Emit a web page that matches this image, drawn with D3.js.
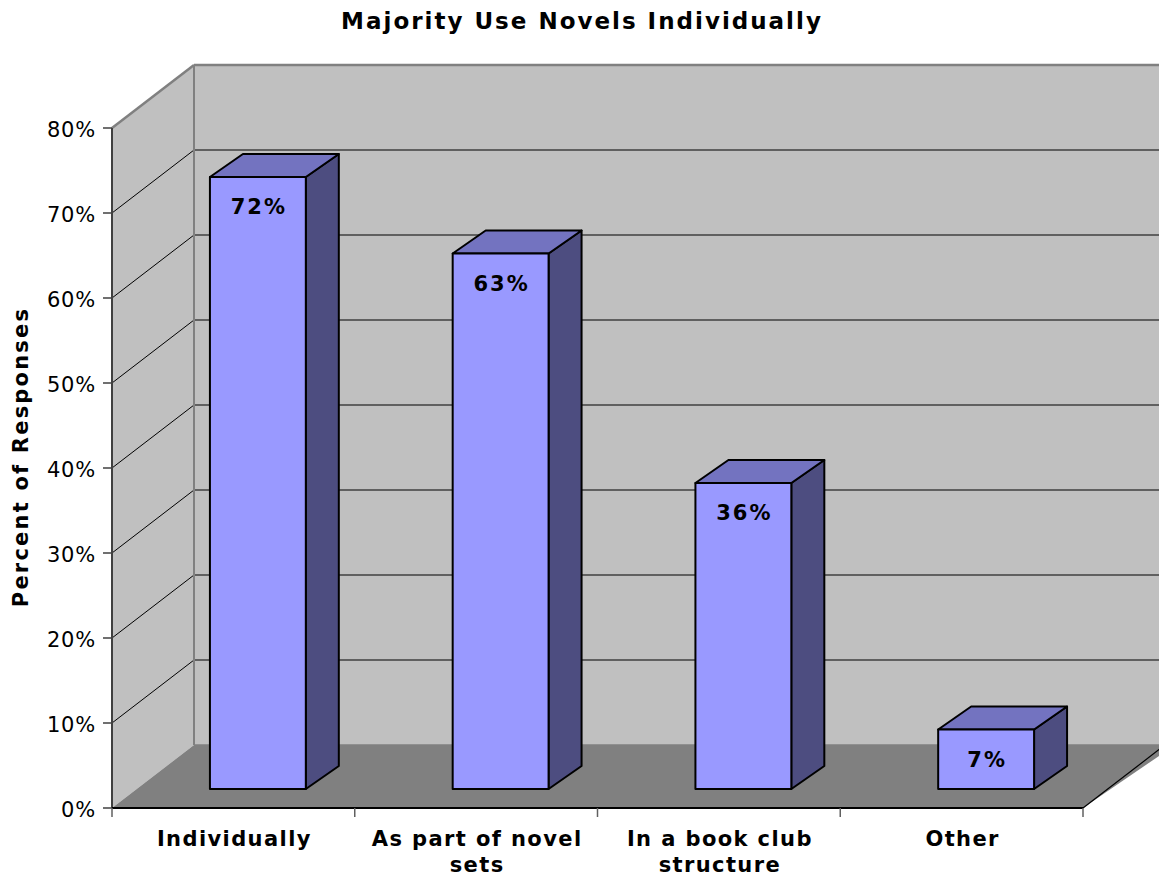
<!DOCTYPE html>
<html>
<head>
<meta charset="utf-8">
<script src="https://cdn.jsdelivr.net/npm/d3@7"></script>
<style>
  html, body { margin: 0; padding: 0; background: #fff; }
  svg { display: block; font-family: "DejaVu Sans", Verdana, sans-serif; }
</style>
</head>
<body>
<svg id="chart" width="1159" height="879"></svg>
<script>
// Survey data
const categories = [["Individually"], ["As part of novel", "sets"], ["In a book club", "structure"], ["Other"]];
const values = [72, 63, 36, 7];
const yTicks = [0, 10, 20, 30, 40, 50, 60, 70, 80];
const title = "Majority Use Novels Individually";
const yTitle = "Percent of Responses";

const svg = d3.select("#chart");

// Front plane of the 3D box
const x0 = 112, x1 = 1083;
const y = d3.scaleLinear().domain([0, 80]).range([808, 128]);
const x = d3.scaleBand().domain(d3.range(categories.length)).range([x0, x1]).paddingInner(0).paddingOuter(0);

// Depth offsets (px) for walls and bar faces
const wall = { dx: 82, dy: -63 };
const barFront = { dx: 24.5, dy: -19 };
const barBack = { dx: 57.5, dy: -42 };
const barW = x.bandwidth() * 0.395;

const W = 1159;

// Back wall
svg.append("rect")
  .attr("x", x0 + wall.dx).attr("y", y(80) + wall.dy)
  .attr("width", W - (x0 + wall.dx) + 10).attr("height", y(0) - y(80))
  .attr("fill", "#c0c0c0");

// Side wall
svg.append("polygon")
  .attr("points", [[x0, y(80)], [x0 + wall.dx, y(80) + wall.dy], [x0 + wall.dx, y(0) + wall.dy], [x0, y(0)]].join(" "))
  .attr("fill", "#c0c0c0");

// Floor
svg.append("polygon")
  .attr("points", [[x0, y(0)], [x0 + wall.dx, y(0) + wall.dy], [x1 + wall.dx + 10, y(0) + wall.dy], [x1, y(0)]].join(" "))
  .attr("fill", "#808080");

// Gridlines on back wall and side wall
const grid = svg.append("g");
yTicks.filter(t => t > 0 && t < 80).forEach(t => {
  grid.append("line")
    .attr("x1", x0 + wall.dx).attr("x2", W)
    .attr("y1", y(t) + wall.dy).attr("y2", y(t) + wall.dy)
    .attr("stroke", "#000").attr("stroke-width", 1);
  grid.append("line")
    .attr("x1", x0).attr("y1", y(t))
    .attr("x2", x0 + wall.dx).attr("y2", y(t) + wall.dy)
    .attr("stroke", "#000").attr("stroke-width", 1);
});

// Wall borders
svg.append("line")
  .attr("x1", x0 + wall.dx).attr("x2", W)
  .attr("y1", y(80) + wall.dy).attr("y2", y(80) + wall.dy)
  .attr("stroke", "#808080").attr("stroke-width", 2.5);
svg.append("line")
  .attr("x1", x0).attr("y1", y(80))
  .attr("x2", x0 + wall.dx).attr("y2", y(80) + wall.dy)
  .attr("stroke", "#808080").attr("stroke-width", 2.5);
svg.append("line")
  .attr("x1", x0 + wall.dx).attr("x2", x0 + wall.dx)
  .attr("y1", y(80) + wall.dy).attr("y2", y(0) + wall.dy)
  .attr("stroke", "#808080").attr("stroke-width", 2);
svg.append("line")
  .attr("x1", x0 + wall.dx).attr("x2", W)
  .attr("y1", y(0) + wall.dy).attr("y2", y(0) + wall.dy)
  .attr("stroke", "#808080").attr("stroke-width", 1.5);
// Floor right edge
svg.append("line")
  .attr("x1", x1).attr("y1", y(0))
  .attr("x2", x1 + wall.dx).attr("y2", y(0) + wall.dy)
  .attr("stroke", "#000").attr("stroke-width", 1.2);

// Bars
const bars = svg.append("g").selectAll("g").data(values).join("g");
bars.each(function (v, i) {
  const g = d3.select(this);
  const cx = x(i) + x.bandwidth() / 2;
  const fl = cx - barW / 2 + barFront.dx, fr = cx + barW / 2 + barFront.dx;
  const bl = cx - barW / 2 + barBack.dx, br = cx + barW / 2 + barBack.dx;
  const ft = y(v) + barFront.dy, fb = y(0) + barFront.dy;
  const bt = y(v) + barBack.dy, bb = y(0) + barBack.dy;
  const stroke = { stroke: "#000", "stroke-width": 2, "stroke-linejoin": "round" };
  const side = g.append("polygon").attr("points", [[fr, ft], [br, bt], [br, bb], [fr, fb]].join(" ")).attr("fill", "#4d4d80");
  const top = g.append("polygon").attr("points", [[fl, ft], [bl, bt], [br, bt], [fr, ft]].join(" ")).attr("fill", "#7373c0");
  const front = g.append("rect").attr("x", fl).attr("y", ft).attr("width", fr - fl).attr("height", fb - ft).attr("fill", "#9999ff");
  [side, top, front].forEach(s => Object.entries(stroke).forEach(([k, val]) => s.attr(k, val)));
  g.append("text")
    .attr("x", (fl + fr) / 2 + 1).attr("y", ft + 37)
    .attr("text-anchor", "middle")
    .attr("font-size", 21).attr("font-weight", "bold").attr("letter-spacing", 2)
    .attr("fill", "#000")
    .text(v + "%");
});

// Y axis
svg.append("line")
  .attr("x1", x0).attr("x2", x0).attr("y1", y(80)).attr("y2", y(0))
  .attr("stroke", "#404040").attr("stroke-width", 2);
const yAxis = svg.append("g").selectAll("g").data(yTicks).join("g");
yAxis.append("line")
  .attr("x1", x0 - 9).attr("x2", x0).attr("y1", d => y(d)).attr("y2", d => y(d))
  .attr("stroke", "#404040").attr("stroke-width", 1.5);
yAxis.append("text")
  .attr("x", x0 - 16).attr("y", d => y(d) + 8.5)
  .attr("text-anchor", "end")
  .attr("font-size", 21).attr("fill", "#000").attr("letter-spacing", 0.8)
  .text(d => d + "%");

// X axis
svg.append("line")
  .attr("x1", x0).attr("x2", x1).attr("y1", y(0)).attr("y2", y(0))
  .attr("stroke", "#000").attr("stroke-width", 2);
const xTickPos = d3.range(categories.length + 1).map(i => x0 + i * x.bandwidth());
svg.append("g").selectAll("line").data(xTickPos).join("line")
  .attr("x1", d => d).attr("x2", d => d).attr("y1", y(0)).attr("y2", y(0) + 9)
  .attr("stroke", "#606060").attr("stroke-width", 1.5);
const xl = svg.append("g").selectAll("text").data(categories).join("text")
  .attr("text-anchor", "middle")
  .attr("font-size", 21).attr("font-weight", "bold").attr("letter-spacing", 1.4)
  .attr("fill", "#000");
xl.each(function (lines, i) {
  const t = d3.select(this);
  lines.forEach((ln, j) => {
    t.append("tspan").attr("x", x(i) + x.bandwidth() / 2 + 1).attr("y", 846 + j * 26).text(ln);
  });
});

// Titles
svg.append("text")
  .attr("x", 582).attr("y", 29)
  .attr("text-anchor", "middle")
  .attr("font-size", 23).attr("font-weight", "bold").attr("letter-spacing", 2)
  .text(title);
svg.append("text")
  .attr("transform", "translate(28,457) rotate(-90)")
  .attr("text-anchor", "middle")
  .attr("font-size", 21).attr("font-weight", "bold").attr("letter-spacing", 2.2)
  .text(yTitle);
</script>
</body>
</html>
